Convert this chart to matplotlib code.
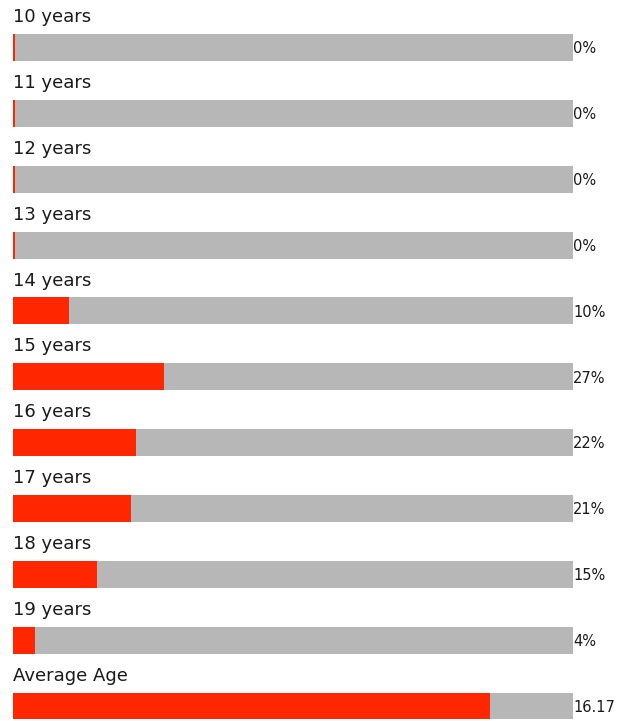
import matplotlib.pyplot as plt

labels = ["10 years", "11 years", "12 years", "13 years", "14 years", "15 years",
          "16 years", "17 years", "18 years", "19 years"]
percents = [0, 0, 0, 0, 10, 27, 22, 21, 15, 4]
avg_label = "Average Age"
avg_value = 16.17
avg_max = 19

RED = "#ff2600"
GRAY = "#b7b7b7"
TXT = "#1a1a1a"

fig = plt.figure(figsize=(6.19, 7.21), dpi=100)
ax = fig.add_axes([13 / 619, 0, 560 / 619, 1])
ax.set_xlim(0, 1)
row = 65.85
ax.set_ylim((721 - 47.5) / row, -47.5 / row)
ax.axis("off")

min_w = 2 / 560  # 0% bars still show a thin red sliver
fracs = [p / 100 for p in percents] + [avg_value / avg_max]
names = labels + [avg_label]
texts = [f"{p}%" for p in percents] + [f"{avg_value:.2f}"]

for i, (name, f, t) in enumerate(zip(names, fracs, texts)):
    ax.barh(i, 1, height=0.41, color=GRAY, left=0)
    ax.barh(i, max(f, min_w), height=0.41, color=RED, left=0)
    ax.text(0, i - 0.46, name, fontsize=13, color=TXT, va="center", ha="left")
    ax.text(1.0, i + 0.02, t, fontsize=10.5, color=TXT, va="center", ha="left",
            clip_on=False)

fig.savefig("out.png", dpi=100)
